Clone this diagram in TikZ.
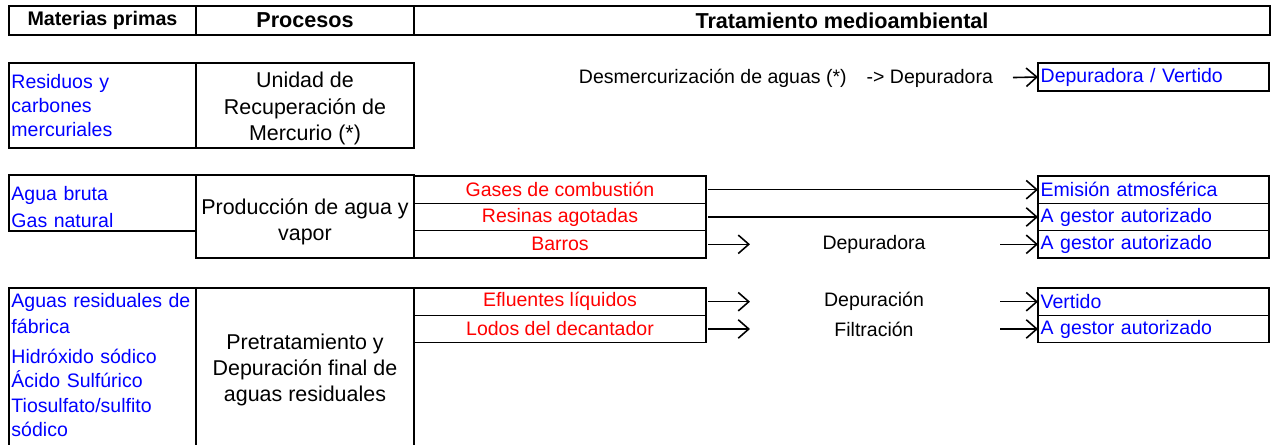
\documentclass[tikz,border=0pt]{standalone}
\usepackage{fontspec}
\setmainfont{Liberation Sans}
\usepackage{xcolor}
\usepackage{tikz}
\usetikzlibrary{arrows.meta}
\usetikzlibrary{positioning}
\tikzset{
    tbox/.style = {rectangle, draw=black, inner sep=0pt, outer sep=0pt},
    wide/.style = {minimum width=#1*0.02cm},
    tall/.style = {minimum height=#1*0.02cm},
    hdr_box/.style = {tbox, line width=1.15pt, tall=29, font=\bfseries\fontsize{12.3}{14}\selectfont},
    mat_box/.style = {tbox, line width=0.75pt, wide=187, text=blue, align=left, inner xsep=1.4pt, text width=103.6pt, font=\fontsize{11.1}{13.9}\selectfont},
    proc_box/.style = {tbox, line width=1.3pt, wide=218, align=center, font=\fontsize{12.2}{14.8}\selectfont},
    out_box/.style = {tbox, line width=0.75pt, wide=292, tall=27.3, text=red, font=\fontsize{11.1}{13.9}\selectfont},
    dest_box/.style = {tbox, line width=0.75pt, wide=231, tall=27.3, text=blue, align=left, inner xsep=1.5pt, text width=128.4pt, font=\fontsize{11.1}{13.9}\selectfont},
    txt/.style = {inner sep=0pt, outer sep=0pt, font=\fontsize{11.1}{13.9}\selectfont},
    mid_text/.style = {txt, wide=248},
    flow/.style = {-{Straight Barb[length=6pt, width=10.5pt]}, line width=0.9pt, shorten <=1.2pt}
}

\begin{document}
\begin{tikzpicture}[x=0.02cm, y=-0.02cm]
    \useasboundingbox (0,0) rectangle (1275,445);
    \clip (0,0) rectangle (1275,445);

    \node [hdr_box, wide=187, font=\bfseries\fontsize{11.2}{13}\selectfont] (hmat) at (102.5,20.5) {Materias primas};
    \node [hdr_box, wide=218, right=0pt of hmat] (hproc) {Procesos};
    \node [hdr_box, wide=856, right=0pt of hproc] (htrat) {Tratamiento medioambiental};

    % mercurio
    \node [mat_box, tall=85] (mat1) at (102.5,105.5) {Residuos y\\carbones\\mercuriales};
    \node [proc_box, tall=85, right=0pt of mat1] (proc1) {\rule{0pt}{12.3pt}Unidad de\\[0.5pt]Recuperación de\\[0.5pt]Mercurio (*)};
    \node [txt, anchor=east] (desm) at (993,78) {Desmercurización de aguas (*)\hspace{0.4cm}-> Depuradora};
    \node [dest_box, tall=28] (dest1) at (1153.5,77) {Depuradora / Vertido};
    \draw [flow, shorten <=0.4cm] (desm.east) -- (dest1.west);

    % agua y vapor
    \node [mat_box, tall=56] (mat2) at (102.5,203) {\rule{0pt}{12.6pt}Agua bruta\\[2pt]Gas natural};
    \node [proc_box, tall=83] (proc2) at (305,216.5) {\rule{0pt}{14.6pt}Producción de agua y\\vapor};
    \node [out_box] (gases) at (560,189.7) {Gases de combustión};
    \node [out_box, below=0pt of gases] (resinas) {Resinas agotadas};
    \node [out_box, below=0pt of resinas] (barros) {Barros};
    \node [dest_box] (emis) at (1153.5,189.7) {Emisión atmosférica};
    \node [dest_box, below=0pt of emis] (ges1) {A gestor autorizado};
    \node [dest_box, below=0pt of ges1] (ges2) {A gestor autorizado};
    \node [mid_text, right=0.88cm of barros] (dep2) {Depuradora};
    \draw [flow] (gases) -- (emis);
    \draw [flow] (resinas) -- (ges1);
    \draw [flow] (barros) -- (dep2);
    \draw [flow] (dep2) -- (ges2);

    % aguas residuales
    \node [mat_box, tall=164] (mat3) at (102.5,370) {Aguas residuales de\\[1pt]fábrica\\[3pt]Hidróxido sódico\\Ácido Sulfúrico\\Tiosulfato/sulfito\\sódico\rule[-5.7pt]{0pt}{0pt}};
    \node [proc_box, tall=164, right=0pt of mat3] (proc3) {Pretratamiento y\\Depuración final de\\aguas residuales};
    \node [out_box] (eflu) at (560,301.7) {Efluentes líquidos};
    \node [out_box, below=0pt of eflu] (lodos) {Lodos del decantador};
    \node [dest_box] (vert) at (1153.5,301.7) {Vertido};
    \node [dest_box, below=0pt of vert] (ges3) {A gestor autorizado};
    \node [mid_text, right=0.88cm of eflu] (depu) {Depuración};
    \node [mid_text, right=0.88cm of lodos] (filt) {Filtración};
    \draw [flow] (eflu) -- (depu);
    \draw [flow] (depu) -- (vert);
    \draw [flow] (lodos) -- (filt);
    \draw [flow] (filt) -- (ges3);
\end{tikzpicture}
\end{document}
